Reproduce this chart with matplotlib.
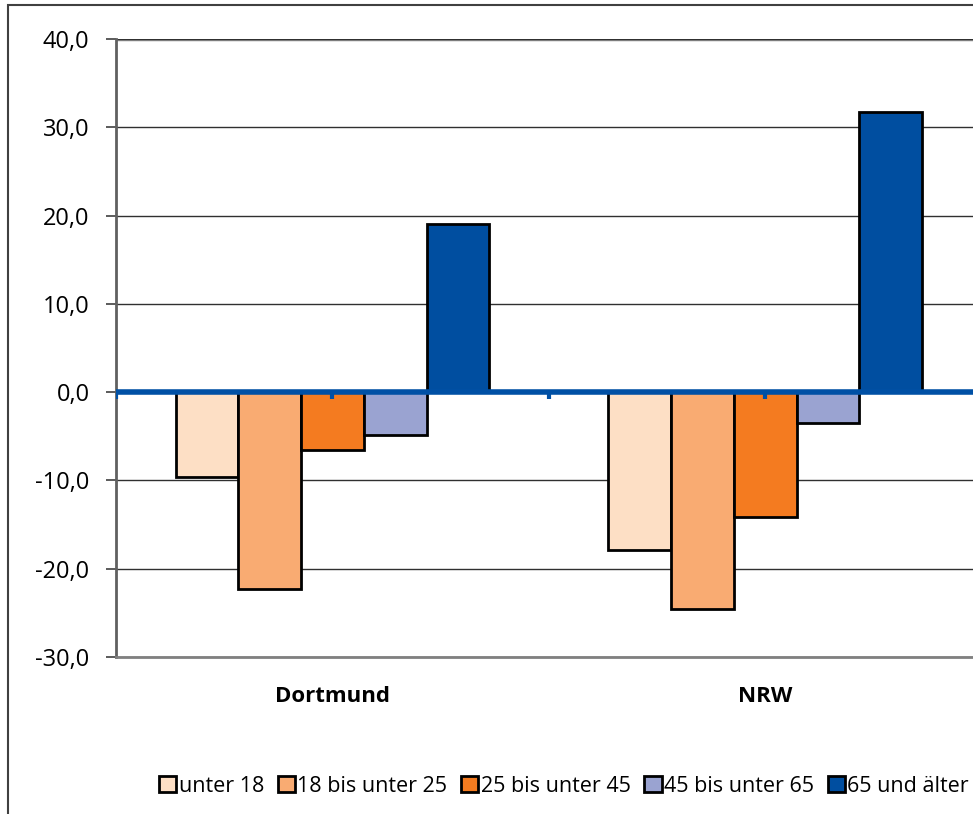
import numpy as np
import matplotlib.pyplot as plt
from matplotlib.patches import Rectangle
from matplotlib.ticker import FuncFormatter

plt.rcParams['font.family'] = ['Open Sans', 'DejaVu Sans']

# Daten
regionen = ['Dortmund', 'NRW']
gruppen = ['unter 18', '18 bis unter 25', '25 bis unter 45', '45 bis unter 65', '65 und älter']
werte = {
    'unter 18':        [-9.6, -17.9],
    '18 bis unter 25': [-22.3, -24.6],
    '25 bis unter 45': [-6.5, -14.1],
    '45 bis unter 65': [-4.8, -3.5],
    '65 und älter':    [19.0, 31.7],
}
farben = ['#FDDFC5', '#F9AB72', '#F47B20', '#9AA3D1', '#004EA0']
blau = '#0050A5'

fig = plt.figure(figsize=(9.73, 8.14), dpi=100)
# aeusserer Rahmen
fig.patches.append(Rectangle((8/973, -0.1), 1.2, 1 - 5/814 + 0.1, transform=fig.transFigure,
                             fill=False, edgecolor='#404040', linewidth=1.5))

ax = fig.add_axes([116/973, 1 - 657/814, 1 - 116/973, (657 - 39)/814])

x = np.arange(len(regionen))
breite = 0.145
for i, g in enumerate(gruppen):
    ax.bar(x + (i - 2) * breite, werte[g], width=breite, color=farben[i],
           edgecolor='black', linewidth=2, zorder=3, label=g)

ax.set_ylim(-30, 40)
ax.set_xlim(-0.5, 1.48)
ax.set_yticks(np.arange(-30, 41, 10))
ax.yaxis.set_major_formatter(FuncFormatter(lambda v, p: f'{v:.1f}'.replace('.', ',')))
ax.grid(axis='y', color='#303030', linewidth=1, zorder=0)
ax.axhline(0, color=blau, linewidth=4, zorder=4)
ax.vlines([-0.5, 0, 0.5, 1], -0.8, 0, color=blau, linewidth=3, zorder=4)

ax.set_xticks(x)
ax.set_xticklabels(regionen, fontweight='bold', fontsize=16)
ax.tick_params(axis='x', length=0, pad=21)
ax.tick_params(axis='y', length=7, width=1.2, color='#404040', labelsize=17, pad=12)

for s in ['top', 'right']:
    ax.spines[s].set_visible(False)
ax.spines['left'].set_color('#606060')
ax.spines['left'].set_linewidth(2)
ax.spines['bottom'].set_color('#808080')
ax.spines['bottom'].set_linewidth(2)
ax.axhline(40, color='#909090', linewidth=2.5, zorder=1)

leg = fig.legend(loc='center', bbox_to_anchor=(564/973, 1 - 786/814), ncol=5, frameon=False,
                 fontsize=15.5, handlelength=0.8, handleheight=0.8, handletextpad=0.1,
                 columnspacing=0.65, borderaxespad=0)
for h in leg.legend_handles:
    h.set_linewidth(2)

plt.savefig('out.png', dpi=100)
